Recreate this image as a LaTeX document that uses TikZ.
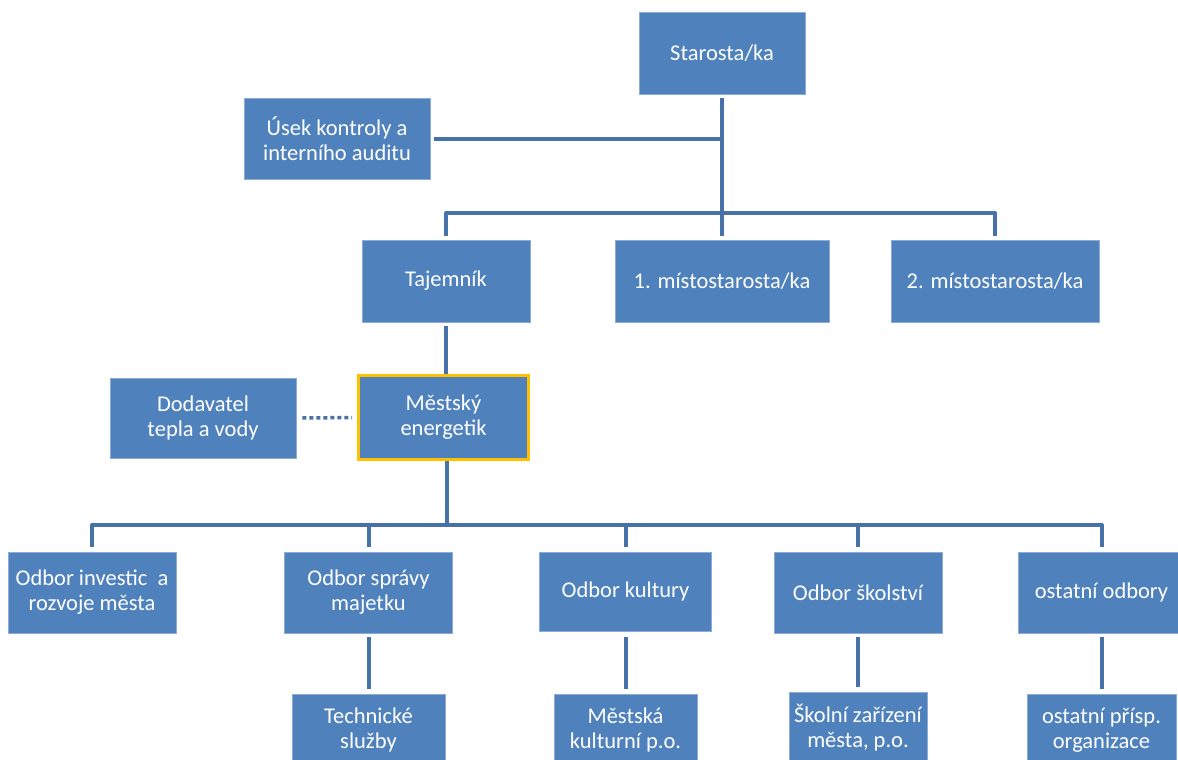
\documentclass[tikz,border=0pt]{standalone}
\usepackage{fontspec}
\setmainfont{Carlito}
\usetikzlibrary{calc}
\definecolor{boxblue}{HTML}{4F81BD}
\definecolor{boxedge}{HTML}{8EABD6}
\definecolor{linkblue}{HTML}{4672A8}
\definecolor{gold}{HTML}{FFC000}

\begin{document}
\begin{tikzpicture}[x=1pt,y=-1pt,
  box/.style={fill=boxblue, draw=boxedge, line width=0.6pt, text=white,
    align=center, inner sep=0pt, font=\fontsize{22.5}{25}\selectfont},
  keybox/.style={box, draw=gold, line width=3pt},
  link/.style={draw=linkblue, line width=4pt, line join=round},
  dotlink/.style={draw=linkblue, line width=3.5pt, dash pattern=on 4pt off 3pt}]
\useasboundingbox (0,0) rectangle (1178,760);

% top management
\node[box, minimum width=166pt, minimum height=82pt] (star) at (722,53) {Starosta/ka};
\node[box, minimum width=186pt, minimum height=81pt] (usek) at (337,138.5) {Úsek kontroly a\\interního auditu};
\node[box, minimum width=168pt, minimum height=82pt] (taj) at (446,281) {Tajemník};
\node[box, minimum width=214pt, minimum height=82pt] (mist1) at (722,281) {1. místostarosta/ka};
\node[box, minimum width=208pt, minimum height=82pt] (mist2) at (995,281) {2. místostarosta/ka};

% energy manager and supplier
\node[box, minimum width=186pt, minimum height=80pt] (dod) at (203,418) {Dodavatel\\tepla a vody};
\node[keybox, minimum width=170pt, minimum height=84pt] (ener) at (443.5,417.5) {Městský\\energetik};

% departments
\node[box, minimum width=168pt, minimum height=81pt] (oi) at (92,592.5) {Odbor investic\ \ a\\rozvoje města};
\node[box, minimum width=168pt, minimum height=81pt] (os) at (368.5,592.5) {Odbor správy\\majetku};
\node[box, minimum width=172pt, minimum height=79pt] (ok) at (625.5,591.5) {Odbor kultury};
\node[box, minimum width=168pt, minimum height=81pt] (osk) at (858,592.5) {Odbor školství};
\node[box, minimum width=166pt, minimum height=81pt] (oo) at (1101.5,592.5) {ostatní odbory};

% subsidiary organisations
\node[box, minimum width=153pt, minimum height=72pt] (tech) at (368.5,730) {Technické\\služby};
\node[box, minimum width=143pt, minimum height=72pt] (mk) at (625.5,730) {Městská\\kulturní p.o.};
\node[box, minimum width=138pt, minimum height=72pt] (sz) at (858,728) {Školní zařízení\\města, p.o.};
\node[box, minimum width=149pt, minimum height=72pt] (op) at (1101.5,730) {ostatní přísp.\\organizace};

% junctions
\coordinate (bus1) at (722,213);
\coordinate (bus2) at (447,525);

% connectors
\draw[link] ([yshift=-4pt]star.south) -- (bus1);
\draw[link] ([xshift=4pt]usek.east) -- (usek.east -| star.south);
\draw[link] ([yshift=4pt]taj.north) |- (bus1) -| ([yshift=4pt]mist2.north);
\draw[link] (bus1) -- ([yshift=4pt]mist1.north);
\draw[link] ([yshift=-4pt]taj.south) -- (taj.south |- ener.north);
\draw[dotlink] ([xshift=6pt]dod.east) -- ([xshift=-5pt]ener.west);
\draw[link] (bus2 |- ener.south) -- (bus2);
\draw[link] ([yshift=5pt]oi.north) |- (bus2) -| ([yshift=5pt]oo.north);
\draw[link] (bus2 -| os.north) -- ([yshift=5pt]os.north);
\draw[link] (bus2 -| ok.north) -- ([yshift=5pt]ok.north);
\draw[link] (bus2 -| osk.north) -- ([yshift=5pt]osk.north);
\draw[link] ([yshift=-4pt]os.south) -- ([yshift=5pt]tech.north);
\draw[link] ([yshift=-6pt]ok.south) -- ([yshift=5pt]mk.north);
\draw[link] ([yshift=-4pt]osk.south) -- ([yshift=5pt]sz.north);
\draw[link] ([yshift=-4pt]oo.south) -- ([yshift=5pt]op.north);
\end{tikzpicture}
\end{document}
